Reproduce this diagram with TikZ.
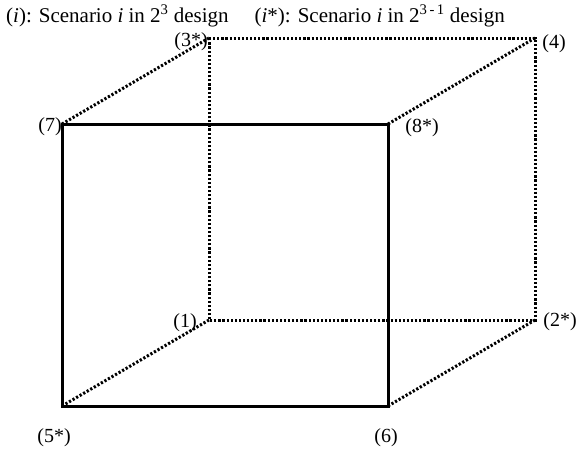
\documentclass[tikz,border=0pt]{standalone}
\usepackage{fontspec}
\setmainfont{Liberation Serif}
\begin{document}
\begin{tikzpicture}[x=1pt,y=-1pt,
  solidedge/.style={line width=3pt, line cap=rect},
  dotedge/.style={line width=3pt, dash pattern=on 2.2pt off 1.9pt},
  lab/.style={font=\fontsize{20}{24}\selectfont, inner sep=0pt}]
\useasboundingbox (0,0) rectangle (578,450);
% front face
\coordinate (f7) at (62,124);
\coordinate (f8) at (388,124);
\coordinate (f5) at (62,406);
\coordinate (f6) at (388,406);
% back face
\coordinate (b3) at (209,38);
\coordinate (b4) at (535,38);
\coordinate (b1) at (209,320);
\coordinate (b2) at (535,320);
\draw[dotedge] (b3) -- (b4) -- (b2) -- (b1) -- cycle;
\draw[dotedge] (f7) -- (b3);
\draw[dotedge] (f8) -- (b4);
\draw[dotedge] (f5) -- (b1);
\draw[dotedge] (f6) -- (b2);
\draw[solidedge] (f7) -- (f8) -- (f6) -- (f5) -- cycle;
% labels
\node[lab, font=\fontsize{21}{24}\selectfont, anchor=base west] (title) at (6,22) {(\textit{i}): Scenario \textit{i} in 2\textsuperscript{3} design\hspace{26pt}(\textit{i}*): Scenario \textit{i} in 2\textsuperscript{3\,-\,1} design};
\node[lab] (l7) at (50,127) {(7)};
\node[lab] (l8) at (422,128) {(8*)};
\node[lab] (l3) at (191,42) {(3*)};
\node[lab] (l4) at (554,44) {(4)};
\node[lab] (l1) at (185,323) {(1)};
\node[lab] (l2) at (560,322) {(2*)};
\node[lab] (l5) at (54,438) {(5*)};
\node[lab] (l6) at (386,438) {(6)};
\end{tikzpicture}
\end{document}
